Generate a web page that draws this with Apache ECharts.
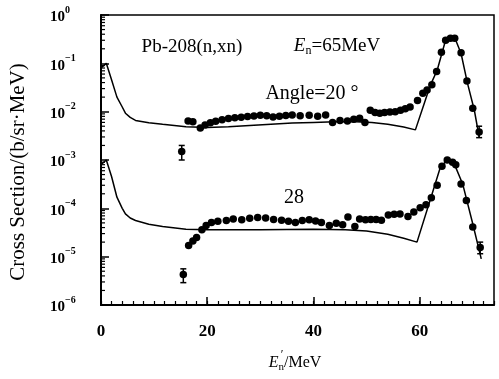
<!DOCTYPE html>
<html><head><meta charset="utf-8">
<script src="https://cdn.jsdelivr.net/npm/echarts@6/dist/echarts.min.js"></script>
<style>html,body{margin:0;padding:0;background:#fff}#c{width:499px;height:379px}</style>
</head><body><div id="c"></div>
<script>
// ---- data ----
const xTickLabels = ['0','20','40','60'];
const yTickExponents = [0,-1,-2,-3,-4,-5,-6];
const minorMultipliers = [2,3,4,5,6,7,8,9];

// Angle = 20 deg experimental points
const exp20X = [15.2,16.4,17.3,18.7,19.6,20.6,21.6,22.8,24.0,25.2,26.4,27.6,28.8,30.0,31.2,32.4,33.6,34.8,36.0,37.5,39.2,40.8,42.3,43.6,45.0,46.4,47.6,48.7,49.7,50.7,51.6,52.5,53.4,54.4,55.4,56.4,57.3,58.2,59.6,60.6,61.4,62.3,63.2,64.1,64.9,65.8,66.6,67.8,68.9,70.0,71.2];
const exp20Y = [1.5e-3,6.4e-3,6.2e-3,4.6e-3,5.3e-3,5.9e-3,6.3e-3,6.8e-3,7.2e-3,7.5e-3,7.7e-3,7.9e-3,8.1e-3,8.4e-3,8.2e-3,7.8e-3,8.0e-3,8.3e-3,8.5e-3,8.2e-3,8.4e-3,8.0e-3,8.5e-3,6.0e-3,6.6e-3,6.4e-3,7.0e-3,7.3e-3,6.0e-3,1.07e-2,9.6e-3,9.3e-3,9.6e-3,9.8e-3,1.0e-2,1.07e-2,1.15e-2,1.25e-2,1.7e-2,2.4e-2,2.8e-2,3.6e-2,6.8e-2,1.7e-1,3.0e-1,3.3e-1,3.3e-1,1.65e-1,4.3e-2,1.18e-2,3.8e-3];
const err20X = [15.2,71.2];
const err20Lo = [1.0e-3,2.9e-3];
const err20Hi = [2.0e-3,5.0e-3];
// Angle = 20 deg calculated curve
const calc20X = [0,1,2,3,4,4.6,5.5,6.5,9,11.6,16,20,24,28,32,36,40,44,48,51,54,57,59.2,60.8,62,63.3,64.8,65.5,66.8,67.8,69,70.3,71.2];
const calc20Y = [0.08,0.1,0.045,0.02,0.0125,0.0093,0.0076,0.0066,0.0059,0.0055,0.0049,0.0047,0.0049,0.0052,0.0055,0.0058,0.006,0.0062,0.0062,0.006,0.0055,0.0048,0.0042,0.014,0.035,0.072,0.28,0.33,0.30,0.16,0.039,0.0107,0.003];

// Angle = 28 deg experimental points
const exp28X = [15.5,16.5,17.3,18.0,19.0,19.8,20.8,22.0,23.6,24.9,26.5,28.0,29.5,31.0,32.5,34.0,35.3,36.6,37.9,39.2,40.4,41.5,43.0,44.3,45.5,46.5,47.8,48.7,49.8,50.8,51.8,52.8,54.1,55.2,56.3,57.8,58.9,60.1,61.2,62.2,63.3,64.2,65.2,66.2,66.8,67.8,68.8,70.0,71.4];
const exp28Y = [4.3e-6,1.7e-5,2.1e-5,2.5e-5,3.6e-5,4.4e-5,5.1e-5,5.4e-5,5.6e-5,6.0e-5,5.8e-5,6.2e-5,6.5e-5,6.3e-5,5.9e-5,5.7e-5,5.4e-5,5.1e-5,5.6e-5,5.8e-5,5.5e-5,5.1e-5,4.4e-5,4.9e-5,4.6e-5,6.6e-5,4.2e-5,6.0e-5,5.8e-5,5.9e-5,5.9e-5,5.7e-5,7.3e-5,7.5e-5,7.6e-5,6.8e-5,8.4e-5,1.03e-4,1.18e-4,1.65e-4,3.0e-4,7.4e-4,1.0e-3,9.0e-4,8.0e-4,3.2e-4,1.45e-4,4.1e-5,1.55e-5];
const err28X = [15.5,71.4];
const err28Lo = [2.9e-6,1.15e-5];
const err28Hi = [5.6e-6,2.0e-5];
// Angle = 28 deg calculated curve
const calc28X = [0,1,2,3,4,4.6,5.5,6.5,9,11.6,16,20,30,40,46,50,54,57,59.5,62,63.9,65.2,66.5,68.1,70,71.6];
const calc28Y = [8e-4,1e-3,4.5e-4,1.7e-4,1.0e-4,7.7e-5,6.3e-5,5.6e-5,4.7e-5,4.2e-5,3.7e-5,3.6e-5,3.6e-5,3.7e-5,3.6e-5,3.4e-5,2.9e-5,2.4e-5,2.0e-5,1.5e-4,7.1e-4,1.0e-3,8.4e-4,3.2e-4,4.8e-5,9e-6];

// ---- chart ----
const FONT = '"Liberation Serif", "DejaVu Serif", serif';
const zip = (a, b) => a.map((v, i) => [v, b[i]]);
const zip3 = (a, b, c) => a.map((v, i) => [v, b[i], c[i]]);
const minorVals = [];
yTickExponents.forEach(e => { if (e < 0) minorMultipliers.forEach(m => minorVals.push([0, m * Math.pow(10, e)])); });

function errRender(params, api) {
  const x = api.value(0), lo = api.value(1), hi = api.value(2);
  const p1 = api.coord([x, lo]), p2 = api.coord([x, hi]);
  const w = 3, st = {stroke: '#000', lineWidth: 1.5};
  return {type: 'group', children: [
    {type: 'line', shape: {x1: p1[0], y1: p1[1], x2: p2[0], y2: p2[1]}, style: st},
    {type: 'line', shape: {x1: p1[0]-w, y1: p1[1], x2: p1[0]+w, y2: p1[1]}, style: st},
    {type: 'line', shape: {x1: p2[0]-w, y1: p2[1], x2: p2[0]+w, y2: p2[1]}, style: st}
  ]};
}
function minorRender(params, api) {
  const p = api.coord([api.value(0), api.value(1)]);
  return {type: 'line', shape: {x1: p[0], y1: p[1], x2: p[0] + 4, y2: p[1]}, style: {stroke: '#000', lineWidth: 1.2}};
}

const chart = echarts.init(document.getElementById('c'), null, {renderer: 'canvas'});
chart.setOption({
  animation: false,
  backgroundColor: '#fff',
  grid: {left: 101, right: 5, top: 15, bottom: 74, show: true, borderColor: '#000', borderWidth: 1.5, backgroundColor: 'transparent'},
  xAxis: [{
    type: 'value', min: 0, max: 74, interval: 20,
    axisLine: {lineStyle: {color: '#000', width: 2}},
    axisTick: {inside: true, length: 8, lineStyle: {color: '#000', width: 1.5}},
    axisLabel: {showMaxLabel: false, color: '#000', fontFamily: FONT, fontSize: 17, fontWeight: 'bold', margin: 18,
      formatter: v => xTickLabels.indexOf(String(v)) >= 0 ? String(v) : ''},
    splitLine: {show: false}
  }, {
    type: 'value', min: 0, max: 74, interval: 2, position: 'bottom',
    axisLine: {show: false},
    axisTick: {inside: true, length: 4, lineStyle: {color: '#000', width: 1.2}},
    axisLabel: {show: false},
    splitLine: {show: false}
  }],
  yAxis: {
    type: 'log', logBase: 10, min: 1e-6, max: 1,
    axisLine: {show: true, lineStyle: {color: '#000', width: 2}},
    axisTick: {show: true, inside: true, length: 8, lineStyle: {color: '#000', width: 1.5}},
    minorTick: {show: false},
    splitLine: {show: false},
    axisLabel: {
      color: '#000', align: 'left', margin: 51,
      formatter: v => {
        const e = Math.round(Math.log10(v));
        return '{b|10}{s|' + (e < 0 ? '\u2212' + (-e) : String(e)) + '}';
      },
      rich: {
        b: {fontFamily: FONT, fontSize: 15, fontWeight: 'bold', color: '#000', lineHeight: 20, verticalAlign: 'bottom'},
        s: {fontFamily: FONT, fontSize: 10, fontWeight: 'bold', color: '#000', lineHeight: 20, verticalAlign: 'top'}
      }
    }
  },
  series: [
    {type: 'custom', renderItem: minorRender, data: minorVals, silent: true, clip: false},
    {type: 'line', data: zip(calc20X, calc20Y), showSymbol: false, symbol: 'none', lineStyle: {color: '#000', width: 1.5}},
    {type: 'line', data: zip(calc28X, calc28Y), showSymbol: false, symbol: 'none', lineStyle: {color: '#000', width: 1.5}},
    {type: 'scatter', data: zip(exp20X, exp20Y), symbol: 'circle', symbolSize: 7.5, itemStyle: {color: '#000', opacity: 1}},
    {type: 'scatter', data: zip(exp28X, exp28Y), symbol: 'circle', symbolSize: 7.5, itemStyle: {color: '#000', opacity: 1}},
    {type: 'custom', renderItem: errRender, data: zip3(err20X, err20Lo, err20Hi), encode: {x: 0, y: [1, 2]}},
    {type: 'custom', renderItem: errRender, data: zip3(err28X, err28Lo, err28Hi), encode: {x: 0, y: [1, 2]}}
  ],
  graphic: [
    {type: 'text', x: 192, y: 47, style: {text: 'Pb-208(n,xn)', fontFamily: FONT, fontSize: 19, fill: '#000', align: 'center', verticalAlign: 'middle'}},
    {type: 'text', x: 337, y: 46, style: {text: '{i|E}{n|n}{r|=65MeV}', align: 'center', verticalAlign: 'middle',
      rich: {i: {fontFamily: FONT, fontSize: 19, fontStyle: 'italic', fill: '#000', lineHeight: 22, verticalAlign: 'middle'},
             n: {fontFamily: FONT, fontSize: 12, fill: '#000', lineHeight: 22, verticalAlign: 'bottom'},
             r: {fontFamily: FONT, fontSize: 19, fill: '#000', lineHeight: 22, verticalAlign: 'middle'}}}},
    {type: 'text', x: 312, y: 94, style: {text: 'Angle=20 \u00b0', fontFamily: FONT, fontSize: 20, fill: '#000', align: 'center', verticalAlign: 'middle'}},
    {type: 'text', x: 294, y: 198, style: {text: '28', fontFamily: FONT, fontSize: 20, fill: '#000', align: 'center', verticalAlign: 'middle'}},
    {type: 'text', x: 18, y: 172, rotation: Math.PI / 2, style: {text: 'Cross Section/(b/sr\u00b7MeV)', fontFamily: FONT, fontSize: 21, fill: '#000', align: 'center', verticalAlign: 'middle'}},
    {type: 'text', x: 295, y: 363, style: {text: '{i|E}{n|n}{r|/MeV}', align: 'center', verticalAlign: 'middle',
      rich: {i: {fontFamily: FONT, fontSize: 16, fontStyle: 'italic', fill: '#000', lineHeight: 20, verticalAlign: 'middle'},
             n: {fontFamily: FONT, fontSize: 11, fill: '#000', lineHeight: 20, verticalAlign: 'bottom'},
             r: {fontFamily: FONT, fontSize: 16, fill: '#000', lineHeight: 20, verticalAlign: 'middle'}}}},
    {type: 'text', x: 282, y: 355, style: {text: '\u2032', fontFamily: FONT, fontSize: 12, fill: '#000', align: 'center', verticalAlign: 'middle'}}
  ]
});
</script>
</body></html>
